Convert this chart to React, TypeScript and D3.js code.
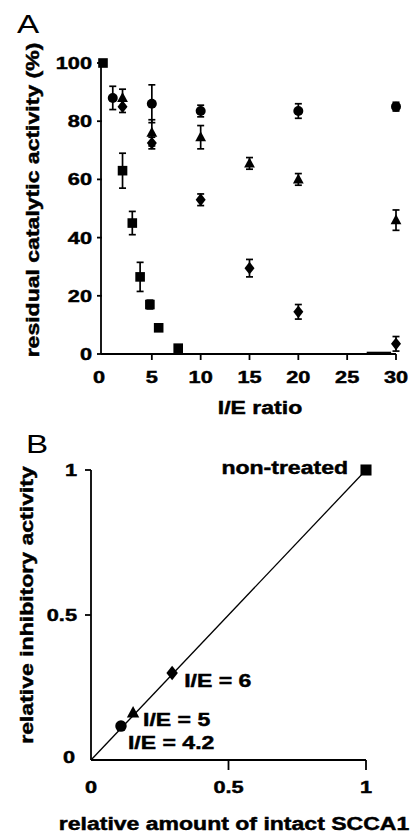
import React from "react";
import * as d3 from "d3";

// ---- Panel A data ----
const sqX = [0, 2, 3, 3.8, 4.8, 5.7, 7.7];
const sqY = [100, 63, 45, 26.5, 17, 9, 2];
const sqE = [0, 6, 4, 5, 1.5, 1, 0];

const ciX = [1, 5, 10, 20, 30];
const ciY = [88, 86, 83.5, 83.5, 85];
const ciE = [4, 6.5, 2, 2.5, 1.5];

const trX = [2, 5, 10, 15, 20, 30];
const trY = [88, 76, 74.5, 65.5, 60, 46];
const trE = [3, 4.5, 4, 2, 2, 3.5];

const diX = [2, 5, 10, 15, 20, 30];
const diY = [85, 72.5, 53, 29.5, 14.5, 3.5];
const diE = [2, 2, 2, 3, 2.5, 2.5];

const baseSeg = [27, 29.5];

const aXTicks = [0, 5, 10, 15, 20, 25, 30];
const aYTicks = [0, 20, 40, 60, 80, 100];

// ---- Panel B data ----
const bPointsX = [1, 0.295, 0.153, 0.109];
const bPointsY = [1, 0.3, 0.162, 0.117];
const bShapes = ["square", "diamond", "triangle", "circle"];
const bLabels = ["non-treated", "I/E = 6", "I/E = 5", "I/E = 4.2"];
const bXTicks = [0, 0.5, 1];
const bYTicks = [0, 0.5, 1];

const FONT = "'Liberation Sans', Arial, sans-serif";
const SX = 1.28;

function T({ x, y, children, anchor = "start", size = 18, rotate = 0, weight = "bold" }: any) {
  const bold = weight === "bold";
  return (
    <text
      transform={`translate(${x},${y}) rotate(${rotate}) scale(${SX},1)`}
      textAnchor={anchor}
      fontFamily={FONT}
      fontWeight={weight}
      fontSize={size}
      fill="#000"
      stroke={bold ? "#000" : "none"}
      strokeWidth={bold ? 0.45 : 0}
    >
      {children}
    </text>
  );
}

function Marker({ shape, x, y, s = 1 }: any) {
  if (shape === "square") {
    const h = 4.8 * s;
    return <rect x={x - h} y={y - h} width={2 * h} height={2 * h} fill="#000" />;
  }
  if (shape === "circle") return <circle cx={x} cy={y} r={5 * s} fill="#000" />;
  if (shape === "triangle") {
    const w = 5.4 * s;
    const h = 10 * s;
    return <path d={`M${x},${y - h * 0.6}L${x + w},${y + h * 0.4}L${x - w},${y + h * 0.4}Z`} fill="#000" />;
  }
  const w = 5 * s;
  const h = 6.4 * s;
  return <path d={`M${x},${y - h}L${x + w},${y}L${x},${y + h}L${x - w},${y}Z`} fill="#000" />;
}

function ErrBar({ x, y0, y1 }: any) {
  return (
    <g stroke="#000" strokeWidth={1.7}>
      <line x1={x} x2={x} y1={y0} y2={y1} />
      <line x1={x - 3.5} x2={x + 3.5} y1={y0} y2={y0} />
      <line x1={x - 3.5} x2={x + 3.5} y1={y1} y2={y1} />
    </g>
  );
}

export default function App() {
  // Panel A scales
  const ax = d3.scaleLinear().domain([0, 30]).range([103, 396]);
  const ay = d3.scaleLinear().domain([0, 100]).range([354, 63]);
  const aAxisX = 101;

  const seriesA = [
    { shape: "square", X: sqX, Y: sqY, E: sqE },
    { shape: "circle", X: ciX, Y: ciY, E: ciE },
    { shape: "triangle", X: trX, Y: trY, E: trE },
    { shape: "diamond", X: diX, Y: diY, E: diE },
  ];

  // Panel B scales
  const bx = d3.scaleLinear().domain([0, 1]).range([91, 366]);
  const by = d3.scaleLinear().domain([0, 1]).range([760, 470]);
  const lineB = d3.line<number>().x((d) => bx(d)).y((d) => by(d));

  const labelOffsets: any = {
    "non-treated": { dx: -18, dy: 4, anchor: "end" },
    "I/E = 6": { dx: 12, dy: 14, anchor: "start" },
    "I/E = 5": { dx: 10, dy: 13, anchor: "start" },
    "I/E = 4.2": { dx: 7, dy: 23, anchor: "start" },
  };

  return (
    <svg width={411} height={834} style={{ position: "absolute", left: 0, top: 0, background: "#fff" }}>
      <rect width={411} height={834} fill="#fff" />
      {/* ---------- Panel A ---------- */}
      <T x={17} y={33} size={26} weight="normal">A</T>
      <g stroke="#000" strokeWidth={1.8}>
        <line x1={aAxisX} x2={aAxisX} y1={ay(100)} y2={ay(0)} />
        <line x1={aAxisX} x2={ax(30)} y1={ay(0)} y2={ay(0)} />
        {aYTicks.map((t) => (
          <line key={t} x1={aAxisX - 4} x2={aAxisX + 1} y1={ay(t)} y2={ay(t)} />
        ))}
        {aXTicks.filter((t) => t > 0).map((t) => (
          <line key={t} x1={ax(t)} x2={ax(t)} y1={ay(0)} y2={ay(0) + 6} />
        ))}
        <line x1={ax(baseSeg[0])} x2={ax(baseSeg[1])} y1={ay(0) - 1} y2={ay(0) - 1} strokeWidth={2.6} />
      </g>
      {aYTicks.map((t) => (
        <T key={t} x={92} y={ay(t) + 6} anchor="end" size={17}>{t}</T>
      ))}
      {aXTicks.map((t) => (
        <T key={t} x={ax(t) - (t === 0 ? 4 : 0)} y={383} anchor="middle" size={17}>{t}</T>
      ))}
      <T x={39} y={200} anchor="middle" size={18} rotate={-90}>residual catalytic activity (%)</T>
      <T x={260} y={414} anchor="middle" size={18}>I/E ratio</T>
      {seriesA.map((s) =>
        s.X.map((xv, i) => (
          <g key={s.shape + i}>
            {s.E[i] > 0 && <ErrBar x={ax(xv)} y0={ay(s.Y[i] - s.E[i])} y1={ay(s.Y[i] + s.E[i])} />}
            <Marker shape={s.shape} x={ax(xv)} y={ay(s.Y[i])} />
          </g>
        ))
      )}

      {/* ---------- Panel B ---------- */}
      <T x={26} y={453} size={26} weight="normal">B</T>
      <g stroke="#000" strokeWidth={1.8}>
        <line x1={bx(0)} x2={bx(0)} y1={by(1)} y2={by(0)} />
        <line x1={bx(0)} x2={bx(1)} y1={by(0)} y2={by(0)} />
        {bYTicks.filter((t) => t > 0).map((t) => (
          <line key={t} x1={bx(0) - 6} x2={bx(0)} y1={by(t)} y2={by(t)} />
        ))}
        {bXTicks.filter((t) => t > 0).map((t) => (
          <line key={t} x1={bx(t)} x2={bx(t)} y1={by(0)} y2={by(0) + 10} />
        ))}
      </g>
      <path d={lineB([0, 1]) || ""} stroke="#000" strokeWidth={1.3} fill="none" />
      {bYTicks.map((t) => (
        <T key={t} x={t === 0 ? 75 : 77} y={by(t) + (t === 0 ? 3 : 6)} anchor="end" size={17}>{t}</T>
      ))}
      {bXTicks.map((t) => (
        <T key={t} x={bx(t)} y={793} anchor="middle" size={17}>{t}</T>
      ))}
      <T x={33} y={605} anchor="middle" size={18} rotate={-90}>relative inhibitory activity</T>
      <T x={234} y={830} anchor="middle" size={18}>relative amount of intact SCCA1</T>
      {bPointsX.map((xv, i) => {
        const o = labelOffsets[bLabels[i]];
        const px = bx(xv);
        const py = by(bPointsY[i]);
        return (
          <g key={i}>
            <Marker shape={bShapes[i]} x={px} y={py} s={1.15} />
            <T x={px + o.dx} y={py + o.dy} anchor={o.anchor} size={18}>{bLabels[i]}</T>
          </g>
        );
      })}
    </svg>
  );
}
